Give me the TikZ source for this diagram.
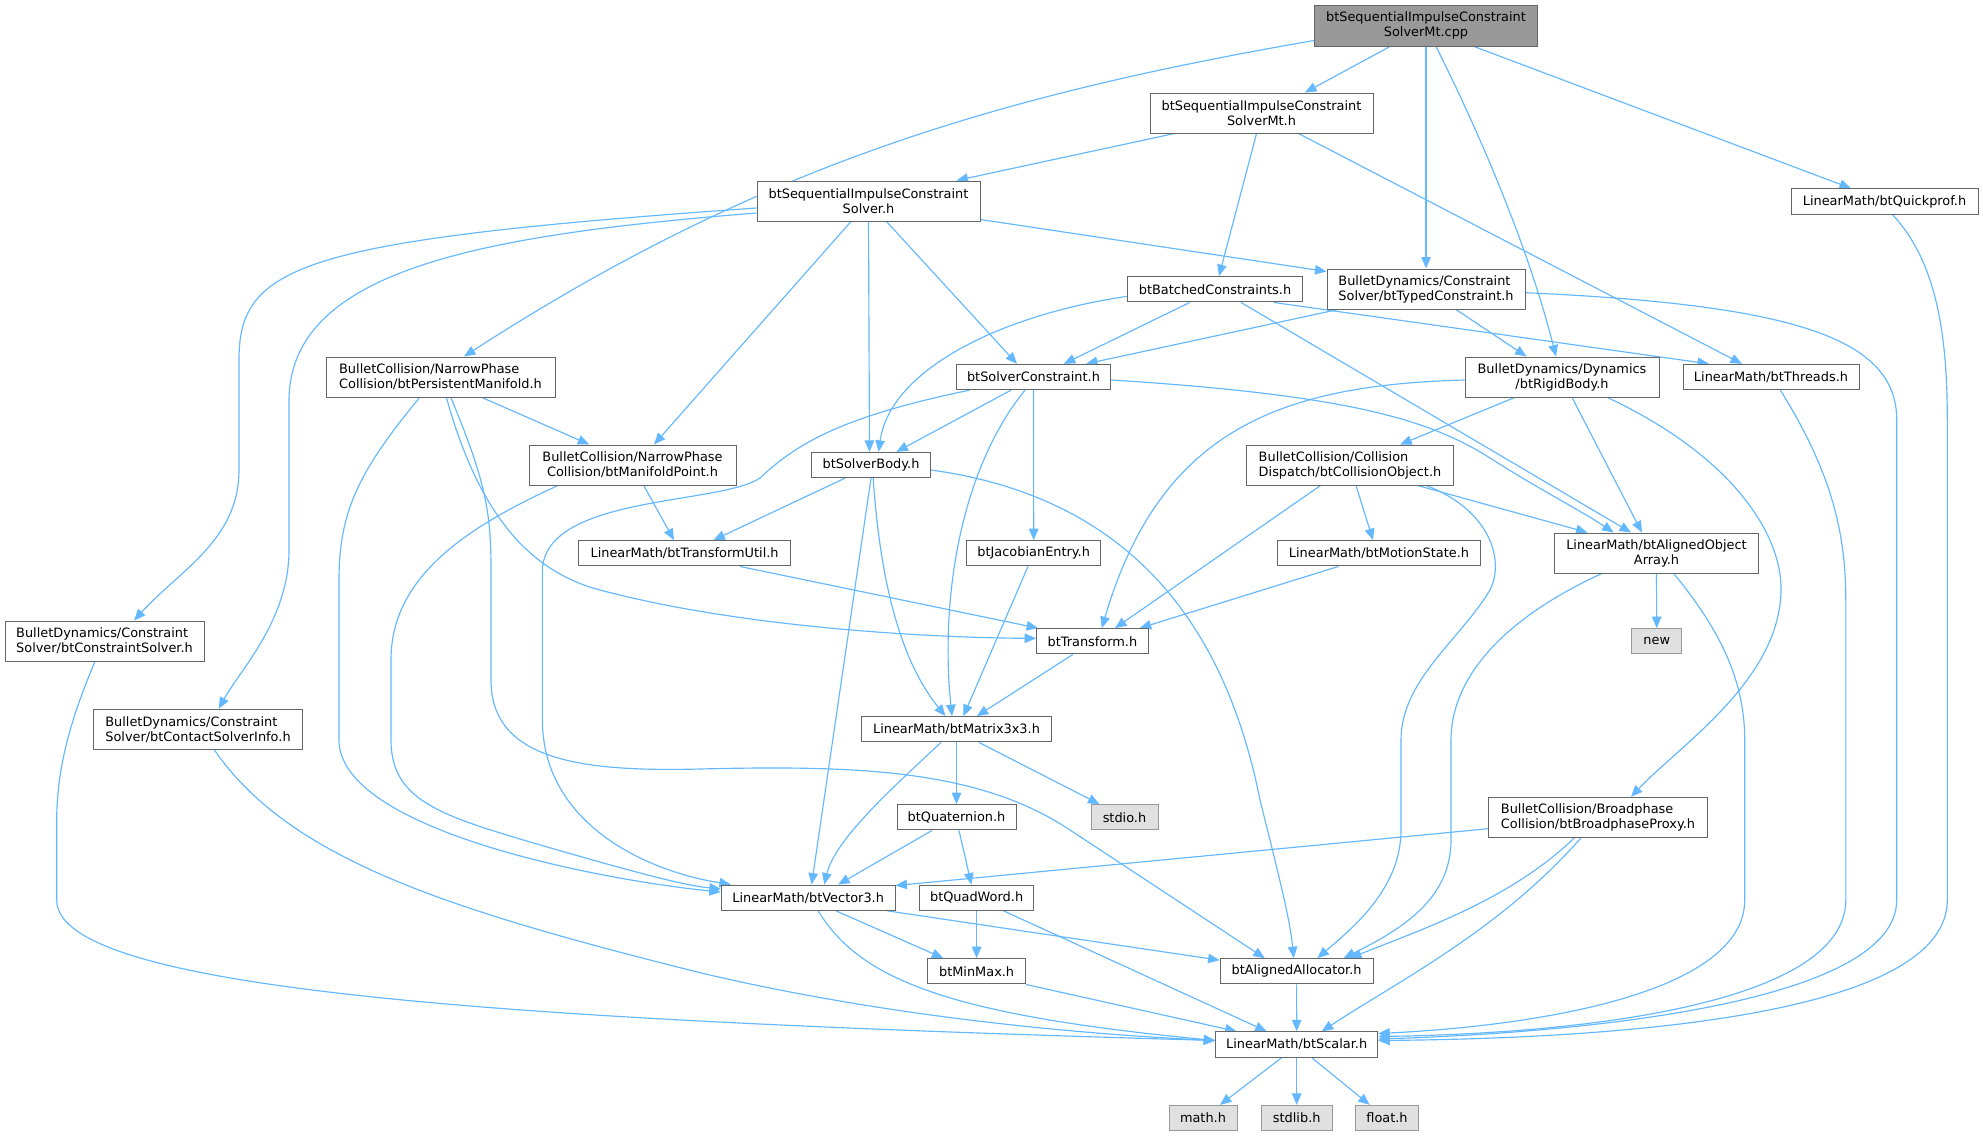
\documentclass[tikz,border=0pt]{standalone}
\usepackage{fontspec}
\setmainfont{DejaVu Sans}
\usetikzlibrary{arrows.meta}
\definecolor{edgec}{HTML}{63B8FF}
\definecolor{boxgray}{HTML}{666666}
\definecolor{rootfill}{HTML}{999999}
\definecolor{sysfill}{HTML}{E0E0E0}
\definecolor{sysborder}{HTML}{999999}
\pgfdeclarelayer{bg}
\pgfsetlayers{bg,main}
\begin{document}
\begin{tikzpicture}[x=1pt,y=-1pt,
  box/.style={draw=boxgray, line width=1pt, fill=white, inner sep=0pt, align=center,
    font=\fontsize{12.9}{15}\selectfont, minimum height=25.3pt},
  tall/.style={minimum height=40pt},
  sys/.style={box, draw=sysborder, fill=sysfill},
  arr/.style={draw=edgec, line width=1.15pt, -{Triangle[length=11.5pt,width=9.5pt]}}]
\useasboundingbox (0,0) rectangle (1983,1136);
% nodes
\node[box, tall, minimum height=41pt, minimum width=223pt, fill=rootfill] (root) at (1426,25.5) {btSequentialImpulseConstraint\\SolverMt.cpp};
\node[box, tall, minimum width=223pt] (simt) at (1261.5,113) {btSequentialImpulseConstraint\\SolverMt.h};
\node[box, tall, minimum width=223pt] (sis) at (868.5,201) {btSequentialImpulseConstraint\\Solver.h};
\node[box, minimum width=174.5pt] (batch) at (1215,289.3) {btBatchedConstraints.h};
\node[box, tall, minimum width=198pt, align=left] (typed) at (1426,289) {BulletDynamics/Constraint\\Solver/btTypedConstraint.h};
\node[box, minimum width=154.5pt] (scon) at (1033.5,377) {btSolverConstraint.h};
\node[box, tall, minimum width=194pt] (rigid) at (1562,377) {BulletDynamics/Dynamics\\/btRigidBody.h};
\node[box, minimum width=176pt] (threads) at (1771,377) {LinearMath/btThreads.h};
\node[box, minimum width=187pt] (qprof) at (1884.5,201.5) {LinearMath/btQuickprof.h};
\node[box, tall, minimum width=229pt, align=left] (pm) at (440.5,377) {BulletCollision/NarrowPhase\\Collision/btPersistentManifold.h};
\node[box, tall, minimum width=207pt] (mp) at (632.5,465) {BulletCollision/NarrowPhase\\Collision/btManifoldPoint.h};
\node[box, minimum width=119pt] (sbody) at (871,465) {btSolverBody.h};
\node[box, tall, minimum width=207pt, align=left] (cobj) at (1350,465) {BulletCollision/Collision\\Dispatch/btCollisionObject.h};
\node[box, minimum width=212pt] (tutil) at (684.6,553.3) {LinearMath/btTransformUtil.h};
\node[box, minimum width=134.4pt] (jac) at (1033.7,553.3) {btJacobianEntry.h};
\node[box, minimum width=202.6pt] (mstate) at (1379,553.3) {LinearMath/btMotionState.h};
\node[box, tall, minimum width=203.4pt] (aoa) at (1656.5,553) {LinearMath/btAlignedObject\\Array.h};
\node[sys, minimum width=49.7pt] (new) at (1656.7,641.3) {new};
\node[box, tall, minimum width=199pt, align=left] (csolver) at (104.5,641) {BulletDynamics/Constraint\\Solver/btConstraintSolver.h};
\node[box, minimum width=111.6pt] (trans) at (1092.4,641.3) {btTransform.h};
\node[box, tall, minimum width=208.5pt, align=left] (csinfo) at (198,729.3) {BulletDynamics/Constraint\\Solver/btContactSolverInfo.h};
\node[box, minimum width=190.6pt] (mat) at (956.5,729.3) {LinearMath/btMatrix3x3.h};
\node[box, tall, minimum width=218.7pt, align=left] (bproxy) at (1598,817.3) {BulletCollision/Broadphase\\Collision/btBroadphaseProxy.h};
\node[box, minimum width=119pt] (quat) at (956.5,817.3) {btQuaternion.h};
\node[sys, minimum width=67pt] (stdio) at (1124.5,817.3) {stdio.h};
\node[box, minimum width=173.6pt] (vec3) at (808.2,897.7) {LinearMath/btVector3.h};
\node[box, minimum width=114.7pt] (quad) at (976.6,897.7) {btQuadWord.h};
\node[box, minimum width=98.7pt] (minmax) at (976.6,971.3) {btMinMax.h};
\node[box, minimum width=153pt] (alloc) at (1296.6,971.3) {btAlignedAllocator.h};
\node[box, minimum width=162pt] (scalar) at (1296.7,1044.5) {LinearMath/btScalar.h};
\node[sys, minimum width=68pt] (math) at (1203,1118) {math.h};
\node[sys, minimum width=71pt] (stdlib) at (1296.7,1118) {stdlib.h};
\node[sys, minimum width=62.7pt] (float) at (1387,1118) {float.h};
\begin{pgfonlayer}{bg}
\fill[white] (0,0) rectangle (1983,1136);
% root
\draw[arr] ([xshift=-36pt]root.south) -- ([xshift=43.5pt]simt.north);
\draw[arr] ([yshift=6pt]root.south west) .. controls (1000,95) and (760,165) .. ([xshift=23.5pt]pm.north);
\draw[arr] (root.south) -- (typed.north);
\draw[arr] ([xshift=10pt]root.south) .. controls (1486,146) and (1531,257) .. ([xshift=-6pt]rigid.north);
\draw[arr] ([xshift=48pt]root.south) -- ([xshift=-33.5pt]qprof.north);
% simt
\draw[arr] ([xshift=-87pt]simt.south) -- ([xshift=88pt]sis.north);
\draw[arr] ([xshift=-5pt]simt.south) -- ([xshift=4pt]batch.north);
\draw[arr] ([xshift=37pt]simt.south) -- ([xshift=-29pt]threads.north);
% sis
\draw[arr] ([yshift=-7pt]sis.west) .. controls (300,240) and (239,265) .. (239,360) -- (239,470) .. controls (239,540) and (180,570) .. ([xshift=29.5pt]csolver.north);
\draw[arr] ([yshift=-12pt]sis.west) .. controls (480,235) and (290,270) .. (289,400) -- (289,550) .. controls (289,620) and (240,670) .. ([xshift=20.75pt]csinfo.north);
\draw[arr] ([xshift=-17.5pt]sis.south) -- ([xshift=21.5pt]mp.north);
\draw[arr] (sis.south) -- ([xshift=-1.5pt]sbody.north);
\draw[arr] ([xshift=18pt]sis.south) -- ([xshift=-16.5pt]scon.north);
\draw[arr] ([yshift=2pt]sis.south east) -- ([yshift=-3pt]typed.north west);
% batch
\draw[arr] ([xshift=-25.3pt]batch.south) -- ([xshift=30.3pt]scon.north);
\draw[arr] ([yshift=-7pt]batch.west) .. controls (1000,315) and (890,370) .. ([xshift=7.6pt]sbody.north);
\draw[arr] ([xshift=26pt]batch.south) -- ([xshift=-25.5pt]aoa.north);
\draw[arr] ([xshift=58.7pt]batch.south) -- ([xshift=-62pt]threads.north);
% typed
\draw[arr] ([xshift=-88pt]typed.south) -- ([xshift=52.5pt]scon.north);
\draw[arr] ([xshift=30pt]typed.south) -- ([xshift=-35.5pt]rigid.north);
\draw[arr] ([yshift=-3.7pt]typed.east) .. controls (1800,305) and (1896.7,340) .. (1896.7,420) -- (1896.7,900) .. controls (1896.7,1000) and (1600,1032) .. ([yshift=5.5pt]scalar.east);
% qprof, threads, aoa to scalar
\draw[arr] ([xshift=8pt]qprof.south) .. controls (1935,260) and (1947.3,330) .. (1947.3,420) -- (1947.3,900) .. controls (1947.3,1010) and (1650,1038) .. ([yshift=4pt]scalar.east);
\draw[arr] ([xshift=9.4pt]threads.south) .. controls (1830,470) and (1845.8,530) .. (1845.8,600) -- (1845.8,900) .. controls (1845.8,1000) and (1600,1033) .. ([yshift=8pt]scalar.east);
\draw[arr] ([xshift=17.2pt]aoa.south) .. controls (1720,630) and (1744.7,680) .. (1744.7,740) -- (1744.7,900) .. controls (1744.7,990) and (1550,1025) .. ([yshift=11pt]scalar.east);
% rigid
\draw[arr] ([yshift=-3pt]rigid.west) .. controls (1280,385) and (1160,430) .. ([xshift=9.4pt]trans.north);
\draw[arr] ([xshift=-47.3pt]rigid.south) -- ([xshift=50.2pt]cobj.north);
\draw[arr] ([xshift=10pt]rigid.south) -- ([xshift=-14.6pt]aoa.north);
\draw[arr] ([xshift=45.5pt]rigid.south) .. controls (1740,460) and (1782,540) .. (1781,590) .. controls (1780,680) and (1680,745) .. ([xshift=33pt]bproxy.north);
% pm
\draw[arr] ([xshift=41.5pt]pm.south) -- ([xshift=-43.2pt]mp.north);
\draw[arr] ([xshift=-21pt]pm.south) .. controls (360,470) and (339,510) .. (339,580) -- (339,740) .. controls (339,830) and (600,880) .. ([yshift=5.7pt]vec3.west);
\draw[arr] ([xshift=5.9pt]pm.south) .. controls (475,500) and (520,569) .. (600,590) .. controls (750,630) and (950,638) .. ([yshift=3pt]trans.west);
\draw[arr] ([xshift=10.4pt]pm.south) .. controls (485,480) and (491,510) .. (491,570) -- (491,680) .. controls (491,760) and (580,772) .. (700,769) .. controls (860,765) and (980,770) .. (1070,830) -- ([xshift=-31.9pt]alloc.north);
% scon
\draw[arr] ([xshift=-22.5pt]scon.south) -- ([xshift=25.4pt]sbody.north);
\draw[arr] ([xshift=-64pt]scon.south) .. controls (850,415) and (800,440) .. (760,478) .. controls (720,505) and (545,495) .. (542.4,570) -- (542.4,720) .. controls (542.4,820) and (640,870) .. ([xshift=10pt]vec3.north west);
\draw[arr] ([xshift=-8.5pt]scon.south) .. controls (960,470) and (940,600) .. ([xshift=-4.5pt]mat.north);
\draw[arr] (scon.south) -- (jac.north);
\draw[arr] ([yshift=-3pt]scon.east) .. controls (1350,395) and (1430,420) .. (1490,458) .. controls (1540,490) and (1580,510) .. ([xshift=-42.9pt]aoa.north);
% mp
\draw[arr] ([xshift=11.25pt]mp.south) -- ([xshift=-10.6pt]tutil.north);
\draw[arr] ([xshift=-74.5pt]mp.south) .. controls (460,530) and (391,580) .. (391,660) -- (391,740) .. controls (391,800) and (440,815) .. (530,842) .. controls (620,868) and (680,885) .. ([yshift=8.7pt]vec3.west);
% sbody
\draw[arr] ([xshift=-26pt]sbody.south) -- ([xshift=28.8pt]tutil.north);
\draw[arr] (sbody.south) -- ([xshift=3.4pt]vec3.north);
\draw[arr] ([xshift=2.2pt]sbody.south) .. controls (880,580) and (900,660) .. ([xshift=-11pt]mat.north);
\draw[arr] ([yshift=-5pt]sbody.east) .. controls (1150,500) and (1230,650) .. (1260,800) .. controls (1280,880) and (1290,920) .. ([xshift=-2.85pt]alloc.north);
% cobj
\draw[arr] ([xshift=-29.5pt]cobj.south) -- ([xshift=22.6pt]trans.north);
\draw[arr] ([xshift=6pt]cobj.south) -- ([xshift=-6pt]mstate.north);
\draw[arr] ([xshift=67.6pt]cobj.south) -- ([xshift=-69pt]aoa.north);
\draw[arr] ([xshift=76.3pt]cobj.south) .. controls (1490,510) and (1505,560) .. (1490,590) .. controls (1460,640) and (1401,680) .. (1401,740) -- (1401,830) .. controls (1401,890) and (1350,930) .. ([xshift=20.8pt]alloc.north);
% misc
\draw[arr] ([xshift=55.4pt]tutil.south) -- ([xshift=2pt]trans.north west);
\draw[arr] ([xshift=-5.7pt]jac.south) -- ([xshift=6.9pt]mat.north);
\draw[arr] ([xshift=-40.6pt]mstate.south) -- ([xshift=47.3pt]trans.north);
\draw[arr] (aoa.south) -- (new.north);
\draw[arr] ([xshift=-54.6pt]aoa.south) .. controls (1500,620) and (1451,680) .. (1451,740) -- (1451,840) .. controls (1451,900) and (1400,930) .. ([xshift=47pt]alloc.north);
\draw[arr] ([xshift=-9.5pt]csolver.south) .. controls (70,720) and (56.7,770) .. (56.7,820) -- (56.7,900) .. controls (56.7,990) and (500,1020) .. ([yshift=4pt]scalar.west);
\draw[arr] ([xshift=-19.6pt]trans.south) -- ([xshift=20.3pt]mat.north);
\draw[arr] ([xshift=16.3pt]csinfo.south) .. controls (290,860) and (450,910) .. (700,972.7) .. controls (900,1020) and (1100,1035) .. ([yshift=4pt]scalar.west);
% mat
\draw[arr] ([xshift=-15.5pt]mat.south) .. controls (890,790) and (835,840) .. ([xshift=16pt]vec3.north);
\draw[arr] (mat.south) -- (quat.north);
\draw[arr] ([xshift=22.5pt]mat.south) -- ([xshift=-25pt]stdio.north);
% bproxy
\draw[arr] ([yshift=-11.4pt]bproxy.west) -- ([yshift=-1pt]vec3.north east);
\draw[arr] ([xshift=-23.6pt]bproxy.south) .. controls (1510,900) and (1420,930) .. ([xshift=53.4pt]alloc.north);
\draw[arr] ([xshift=-17pt]bproxy.south) .. controls (1500,930) and (1400,980) .. ([xshift=25pt]scalar.north);
% quat
\draw[arr] ([xshift=-24.5pt]quat.south) -- ([xshift=30pt]vec3.north);
\draw[arr] ([xshift=2.5pt]quat.south) -- ([xshift=-5.2pt]quad.north);
% vec3
\draw[arr] ([xshift=27.8pt]vec3.south) -- ([xshift=-33.3pt]minmax.north);
\draw[arr] ([xshift=79.3pt]vec3.south) -- ([yshift=-2pt]alloc.north west);
\draw[arr] ([xshift=10pt]vec3.south) .. controls (860,980) and (950,1015) .. ([yshift=4pt]scalar.west);
% quad, minmax, alloc
\draw[arr] (quad.south) -- (minmax.north);
\draw[arr] ([xshift=27pt]quad.south) -- ([xshift=-30pt]scalar.north);
\draw[arr] ([xshift=49.3pt]minmax.south) -- ([xshift=-60pt]scalar.north);
\draw[arr] (alloc.south) -- (scalar.north);
% scalar
\draw[arr] ([xshift=-15pt]scalar.south) -- ([xshift=17pt]math.north);
\draw[arr] (scalar.south) -- (stdlib.north);
\draw[arr] ([xshift=15pt]scalar.south) -- ([xshift=-17.3pt]float.north);
\end{pgfonlayer}
\end{tikzpicture}
\end{document}
